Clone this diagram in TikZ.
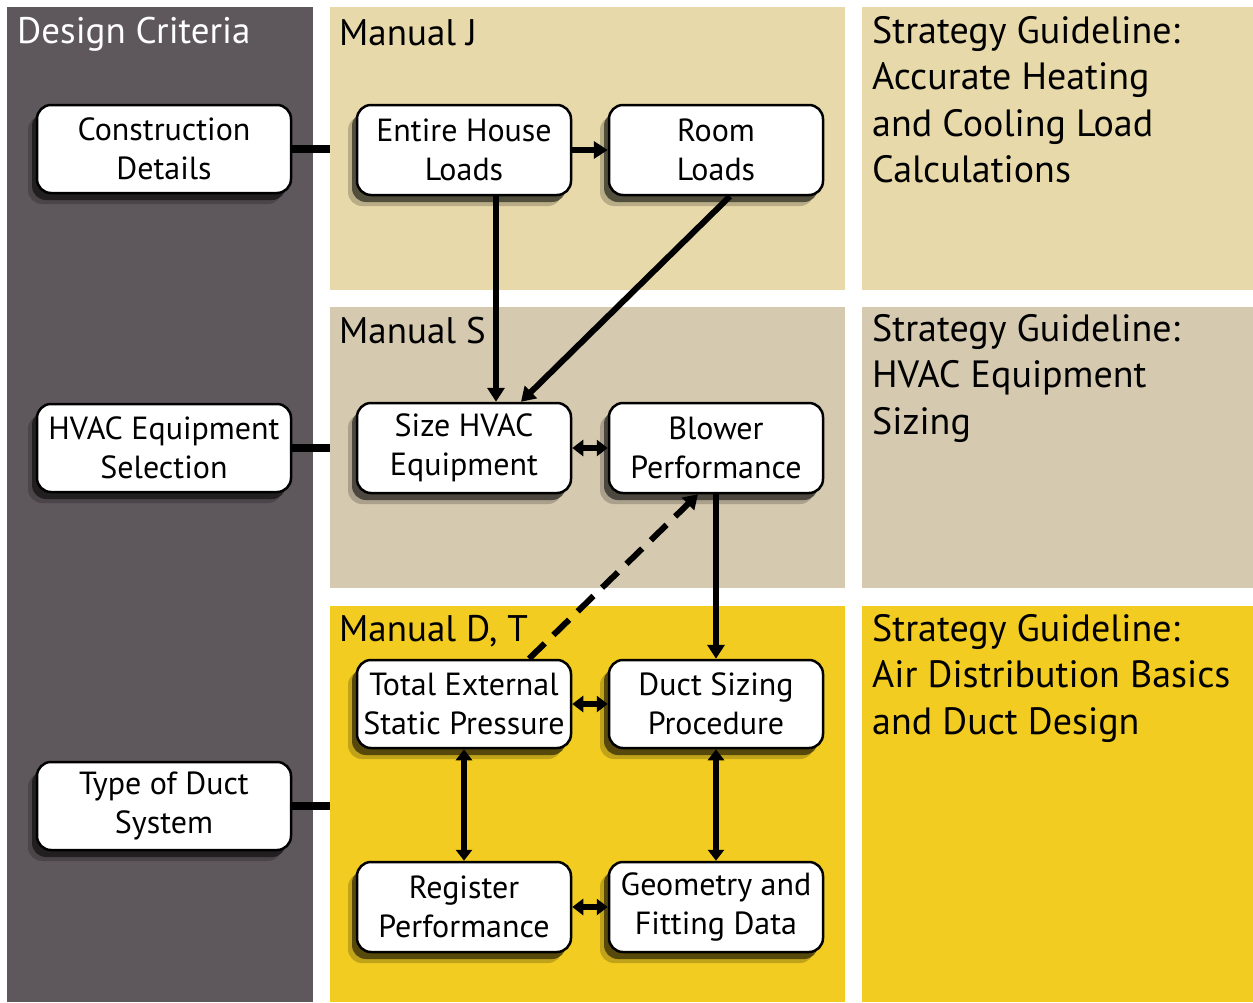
\documentclass[tikz,border=0pt]{standalone}
\usepackage{fontspec}
\setmainfont{PT Sans}
\usetikzlibrary{arrows.meta,shadows,calc}
\definecolor{dgray}{RGB}{94,87,92}
\definecolor{tanJ}{RGB}{231,217,169}
\definecolor{tanS}{RGB}{213,201,175}
\definecolor{yelD}{RGB}{242,204,32}
\begin{document}
\begin{tikzpicture}[x=1pt,y=-1pt,
  box/.style={draw=black,line width=2.5pt,fill=white,rounded corners=14pt,
    minimum width=214pt,minimum height=90pt,inner sep=0pt,align=center,
    font=\fontsize{32}{39.5}\selectfont,
    drop shadow={shadow xshift=-9pt,shadow yshift=-11pt,opacity=0.2,fill=black},
    drop shadow={shadow xshift=-5pt,shadow yshift=-7pt,opacity=0.55,fill=black}},
  wbox/.style={box,minimum width=254pt,minimum height=88pt},
  hdr/.style={inner sep=0pt,anchor=west,font=\fontsize{37}{44}\selectfont},
  strat/.style={inner sep=0pt,anchor=north west,align=left,font=\fontsize{38}{46.5}\selectfont},
  arr/.style={line width=6pt,-{Triangle[length=14pt,width=17pt]}},
  darr/.style={line width=6pt,{Triangle[length=11pt,width=16pt]}-{Triangle[length=11pt,width=16pt]}},
  link/.style={line width=8pt}]
\useasboundingbox (0,0) rectangle (1253,1002);
\fill[white] (0,0) rectangle (1253,1002);
% panels
\fill[dgray] (7,7) rectangle (313,1002);
\fill[tanJ] (330,7) rectangle (845,290);
\fill[tanJ] (862,7) rectangle (1253,290);
\fill[tanS] (330,307) rectangle (845,588);
\fill[tanS] (862,307) rectangle (1253,588);
\fill[yelD] (330,606) rectangle (845,1002);
\fill[yelD] (862,606) rectangle (1253,1002);
% headers
\node[hdr,text=white] (hdc) at (17,34) {Design Criteria};
\node[hdr] (hmj) at (339,33) {Manual J};
\node[hdr] (hms) at (339,331) {Manual S};
\node[hdr] (hmd) at (339,631) {Manual D, T};
\node[strat] (sg1) at (872,16) {Strategy Guideline:\\Accurate Heating\\and Cooling Load\\Calculations};
\node[strat] (sg2) at (872,314) {Strategy Guideline:\\HVAC Equipment\\Sizing};
\node[strat] (sg3) at (872,614) {Strategy Guideline:\\Air Distribution Basics\\and Duct Design};
% boxes
\node[wbox] (cd) at (164,149) {Construction\\Details};
\node[wbox] (hes) at (164,448) {HVAC Equipment\\Selection};
\node[wbox] (tds) at (164,806) {Type of Duct\\System};
\node[box] (ehl) at (464,150) {Entire House\\Loads};
\node[box] (rl) at (716,150) {Room\\Loads};
\node[box] (she) at (464,448) {Size HVAC\\Equipment};
\node[box] (bp) at (716,448) {Blower\\Performance};
\node[box,minimum height=88pt] (tesp) at (464,704) {Total External\\Static Pressure};
\node[box,minimum height=88pt] (dsp) at (716,704) {Duct Sizing\\Procedure};
\node[box] (rp) at (464,907) {Register\\Performance};
\node[box] (gfd) at (716,907) {Geometry and\\Fitting Data};
% panel edge coordinates
\coordinate (e1) at (330,149);
\coordinate (e2) at (330,448);
\coordinate (e3) at (330,806);
% connectors
\draw[link] (cd.east) -- (e1);
\draw[link] (hes.east) -- (e2);
\draw[link] (tds.east) -- (e3);
\draw[arr] (ehl.east) -- (rl.west);
\draw[arr] ($(ehl.south)+(32,0)$) -- ($(she.north)+(32,0)$);
\draw[arr] ($(rl.south)+(14,0)$) -- ($(she.north)+(57,0)$);
\draw[darr] (she.east) -- (bp.west);
\draw[arr] (bp.south) -- (dsp.north);
\draw[arr,dash pattern=on 22pt off 12pt] ($(tesp.north)+(65,0)$) -- ($(bp.south)+(-18,0)$);
\draw[darr] (tesp.east) -- (dsp.west);
\draw[darr] (tesp.south) -- (rp.north);
\draw[darr] (dsp.south) -- (gfd.north);
\draw[darr] (rp.east) -- (gfd.west);
\end{tikzpicture}
\end{document}
